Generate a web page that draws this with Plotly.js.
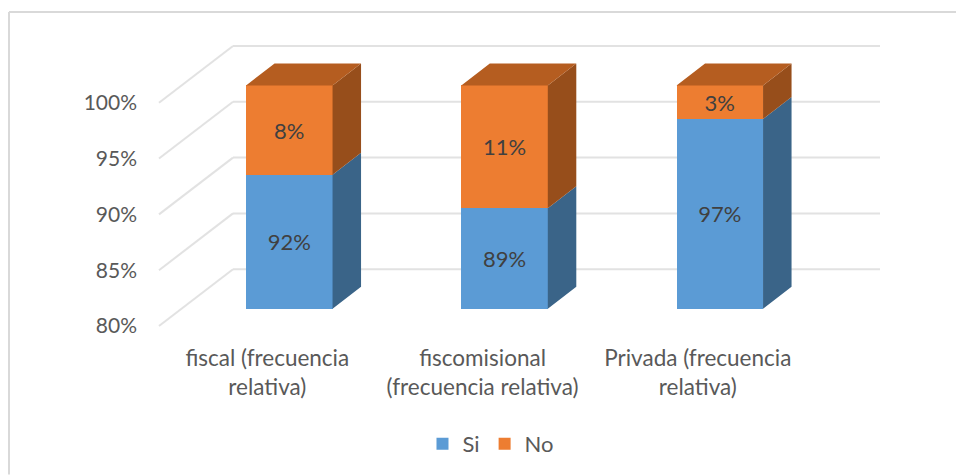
<!DOCTYPE html>
<html><head><meta charset="utf-8">
<script src="https://cdn.plot.ly/plotly-3.0.1.min.js"></script>
<style>html,body{margin:0;padding:0;background:#fff;overflow:hidden}#c{width:956px;height:476px}</style>
</head><body><div id="c"></div>
<script>
const categories = ["fiscal (frecuencia<br>relativa)", "fiscomisional<br>(frecuencia relativa)", "Privada (frecuencia<br>relativa)"];
const siValues = [92, 89, 97];
const noValues = [8, 11, 3];
const yTicks = [80, 85, 90, 95, 100];
const seriesNames = ["Si", "No"];
const AXIS_MIN = 80;

const pos = categories.map((_, i) => i);
const plot = {l:150, r:890, t:30, b:340};
const xUnit = 215.25, yUnit = 11.2;
const x0px = 289.3, y80px = 309.6;
const xRange = [(plot.l-x0px)/xUnit, (plot.r-x0px)/xUnit];
const yRange = [AXIS_MIN-(plot.b-y80px)/yUnit, AXIS_MIN+(y80px-plot.t)/yUnit];
const barW = 86.5/xUnit, hw = barW/2;
const depthX = 28.5/xUnit, depthY = 22/yUnit;
const labelShiftX = -22/xUnit, labelShiftY = -17.4/yUnit;
const wallY = 39.6/yUnit, floorY = -17.4/yUnit;
const wallL = (233-x0px)/xUnit, wallR = (880-x0px)/xUnit, frontL = (159-x0px)/xUnit;
const font = "Lato, 'Open Sans', sans-serif";

function polys(fn){const xs=[],ys=[];pos.forEach(i=>{const p=fn(i);p.forEach(q=>{xs.push(q[0]);ys.push(q[1]);});xs.push(null);ys.push(null);});return {x:xs,y:ys};}
function face(p,color){return {type:'scatter',mode:'lines',x:p.x,y:p.y,fill:'toself',fillcolor:color,line:{width:0,color:color},connectgaps:false,showlegend:false,hoverinfo:'skip'};}

const siSide = polys(i=>{const r=i+hw;return [[r,AXIS_MIN],[r+depthX,AXIS_MIN+depthY],[r+depthX,siValues[i]+depthY],[r,siValues[i]],[r,AXIS_MIN]];});
const noSide = polys(i=>{const r=i+hw,t=siValues[i]+noValues[i];return [[r,siValues[i]],[r+depthX,siValues[i]+depthY],[r+depthX,t+depthY],[r,t],[r,siValues[i]]];});
const noTop = polys(i=>{const t=siValues[i]+noValues[i];return [[i-hw,t],[i+hw,t],[i+hw+depthX,t+depthY],[i-hw+depthX,t+depthY],[i-hw,t]];});

const labelFont = {family:font,size:22,color:'#404040'};
const data = [
  {type:'bar',name:seriesNames[0],x:pos,y:siValues.map(v=>v-AXIS_MIN),base:AXIS_MIN,width:barW,marker:{color:'#5B9BD5'},
   text:siValues.map(v=>v+'%'),textposition:'inside',insidetextanchor:'middle',textangle:0,constraintext:'none',textfont:labelFont,hoverinfo:'skip'},
  {type:'bar',name:seriesNames[1],x:pos,y:noValues,base:siValues,width:barW,marker:{color:'#ED7D31'},
   text:noValues.map(v=>v+'%'),textposition:'inside',insidetextanchor:'middle',textangle:0,constraintext:'none',textfont:labelFont,hoverinfo:'skip'},
  face(siSide,'#3A6488'),
  face(noSide,'#974E1B'),
  face(noTop,'#B55D20')
];

const gridStyle = {color:'#E2E2E2',width:2};
const shapes = [];
yTicks.forEach(v=>{
  const back = v+wallY, front = v+floorY;
  shapes.push({type:'line',xref:'x',yref:'y',x0:wallL,x1:wallR,y0:back,y1:back,line:gridStyle,layer:'below'});
  shapes.push({type:'line',xref:'x',yref:'y',x0:frontL,x1:wallL,y0:front,y1:back,line:gridStyle,layer:'below'});
});
// chart frame: top and left edges only
const pw = plot.r-plot.l, ph = plot.b-plot.t;
const fx = px => (px-plot.l)/pw, fy = py => 1-(py-plot.t)/ph;
const frame = {color:'#D9D9D9',width:2};
shapes.push({type:'line',xref:'paper',yref:'paper',x0:fx(9),x1:fx(956),y0:fy(12),y1:fy(12),line:frame,layer:'above'});
shapes.push({type:'line',xref:'paper',yref:'paper',x0:fx(9),x1:fx(9),y0:fy(12),y1:fy(476),line:frame,layer:'above'});

const layout = {
  width:956,height:476,paper_bgcolor:'#fff',plot_bgcolor:'rgba(0,0,0,0)',
  margin:{l:plot.l,r:956-plot.r,t:plot.t,b:476-plot.b,pad:0},
  barmode:'overlay',bargap:0,showlegend:true,
  font:{family:font,size:22,color:'#595959'},
  xaxis:{range:xRange,autorange:false,showgrid:false,zeroline:false,showline:false,ticks:'',ticklabelstandoff:3,
    tickmode:'array',tickvals:pos.map(i=>i+labelShiftX),ticktext:categories,tickangle:0,tickfont:{family:font,size:22.5,color:'#595959'},automargin:false},
  yaxis:{range:yRange,autorange:false,showgrid:false,zeroline:false,showline:false,ticks:'',ticklabelstandoff:12,
    tickmode:'array',tickvals:yTicks.map(v=>v+labelShiftY),ticktext:yTicks.map(v=>v+'%'),tickfont:{family:font,size:21,color:'#595959'},automargin:false},
  legend:{orientation:'h',x:0.4608,xanchor:'center',y:-0.335,yanchor:'middle',
    font:{family:font,size:22,color:'#595959'},traceorder:'normal',bgcolor:'rgba(0,0,0,0)'},
  shapes:shapes
};
Plotly.newPlot('c',data,layout,{displayModeBar:false,staticPlot:true});
</script></body></html>
